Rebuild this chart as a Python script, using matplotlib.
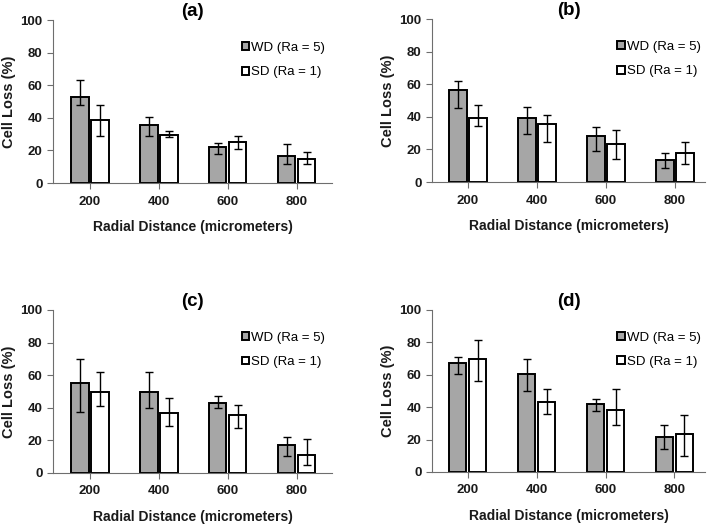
import matplotlib.pyplot as plt
import numpy as np

plt.rcParams['font.family'] = ['Liberation Sans', 'DejaVu Sans']

distances = ['200', '400', '600', '800']
panels = ['(a)', '(b)', '(c)', '(d)']

# mean values (%)
wd_a = [53, 35.3, 22.2, 16.5]
sd_a = [38.8, 29.6, 25.1, 14.5]
wd_b = [56.2, 39, 28.4, 13.7]
sd_b = [39.5, 35.8, 23.5, 17.8]
wd_c = [54.9, 49.4, 42.7, 17.3]
sd_c = [49.4, 36.9, 35.3, 11.2]
wd_d = [67.4, 60.7, 42, 21.7]
sd_d = [69.7, 43, 38.3, 23.6]

# error bar ends (upper, lower)
wd_a_hi = [63, 40.8, 24.5, 24.1]
wd_a_lo = [48, 28.6, 18, 11.8]
sd_a_hi = [47.8, 32, 28.6, 18.8]
sd_a_lo = [28.6, 28, 20.8, 11.4]
wd_b_hi = [62, 46.2, 33.7, 17.8]
wd_b_lo = [45.2, 29.7, 19.2, 8.8]
sd_b_hi = [47, 40.9, 32.1, 24.5]
sd_b_lo = [34.6, 24.7, 13.9, 10.8]
wd_c_hi = [70.2, 61.8, 47.3, 21.8]
wd_c_lo = [37.6, 40, 40, 10.2]
sd_c_hi = [61.8, 46.3, 42, 20.8]
sd_c_lo = [41.2, 28.6, 27.8, 4.9]
wd_d_hi = [71.1, 69.5, 45.3, 28.9]
wd_d_lo = [60.5, 50, 37.9, 14.1]
sd_d_hi = [81.4, 51.4, 51.4, 35]
sd_d_lo = [56.4, 35.9, 28.7, 10]

data = [
    (wd_a, sd_a, wd_a_hi, wd_a_lo, sd_a_hi, sd_a_lo),
    (wd_b, sd_b, wd_b_hi, wd_b_lo, sd_b_hi, sd_b_lo),
    (wd_c, sd_c, wd_c_hi, wd_c_lo, sd_c_hi, sd_c_lo),
    (wd_d, sd_d, wd_d_hi, wd_d_lo, sd_d_hi, sd_d_lo),
]

positions = [
    [0.0746, 0.6527, 0.393, 0.3093],
    [0.6085, 0.6546, 0.385, 0.3093],
    [0.0746, 0.1025, 0.393, 0.3093],
    [0.6085, 0.1044, 0.385, 0.3074],
]
xlims = [(-0.536, 3.51), (-0.52, 3.44), (-0.536, 3.51), (-0.52, 3.45)]

fig = plt.figure(figsize=(7.1, 5.27), dpi=100)

x = np.arange(len(distances))
w = 0.25
off = 0.145
axis_col = '#6e6e6e'

for i in range(4):
    wd, sd, wh, wl, sh, sl = data[i]
    ax = fig.add_axes(positions[i])
    wd = np.array(wd); sd = np.array(sd)
    wd_err = [wd - np.array(wl), np.array(wh) - wd]
    sd_err = [sd - np.array(sl), np.array(sh) - sd]
    ax.bar(x - off, wd, w, color='#a6a6a6', edgecolor='black', linewidth=1.4,
           yerr=wd_err, error_kw=dict(ecolor='black', elinewidth=1, capsize=3, capthick=1),
           label='WD (Ra = 5)', zorder=2)
    ax.bar(x + off, sd, w, color='white', edgecolor='black', linewidth=1.4,
           yerr=sd_err, error_kw=dict(ecolor='black', elinewidth=1, capsize=3, capthick=1),
           label='SD (Ra = 1)', zorder=2)
    ax.set_ylim(0, 100)
    ax.set_yticks([0, 20, 40, 60, 80, 100])
    ax.set_xlim(*xlims[i])
    ax.set_xticks(x)
    ax.set_xticklabels(distances)
    ax.spines['top'].set_visible(False)
    ax.spines['right'].set_visible(False)
    ax.spines['left'].set_color(axis_col)
    ax.spines['bottom'].set_color(axis_col)
    ax.tick_params(axis='both', colors=axis_col, labelcolor='#1a1a1a', labelsize=9.5, length=4)
    ax.tick_params(axis='x', pad=5)
    for lab in ax.get_xticklabels() + ax.get_yticklabels():
        lab.set_fontweight('bold')
    ax.set_title(panels[i], fontsize=13.5, fontweight='bold', pad=3)
    ax.set_ylabel('Cell Loss (%)', fontsize=10.5, fontweight='bold', color='#1a1a1a', labelpad=3)
    ax.set_xlabel('Radial Distance (micrometers)', fontsize=10, fontweight='bold',
                  color='#1a1a1a', labelpad=9)
    ax.legend(loc='upper left', bbox_to_anchor=(0.635, 0.94), frameon=False, fontsize=9.5,
              handlelength=0.55, handleheight=0.55, handletextpad=0.15, labelspacing=0.95)

fig.savefig('out.png', dpi=100)
